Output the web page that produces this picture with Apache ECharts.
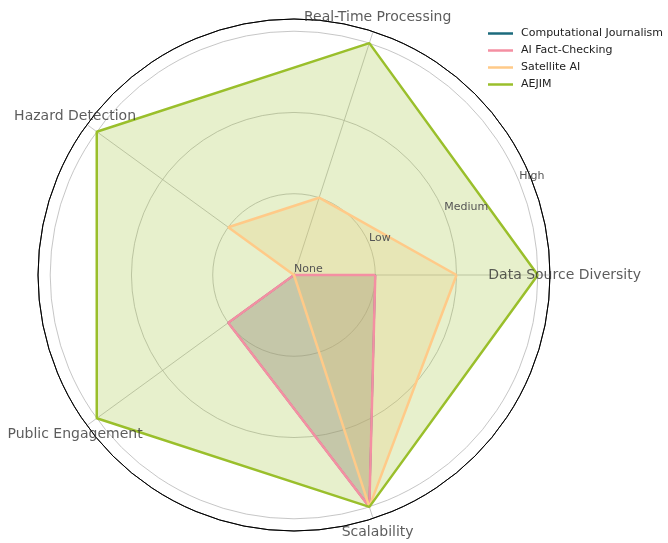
<!DOCTYPE html>
<html>
<head>
<meta charset="utf-8">
<script src="https://cdn.jsdelivr.net/npm/echarts@6/dist/echarts.min.js"></script>
<style>
html,body{margin:0;padding:0;background:#fff;}
#chart{width:668px;height:543px;}
</style>
</head>
<body>
<div id="chart"></div>
<script>
const indicators = ['Data Source Diversity', 'Real-Time Processing', 'Hazard Detection', 'Public Engagement', 'Scalability'];
const levelLabels = ['None', 'Low', 'Medium', 'High'];
const seriesNames = ['Computational Journalism', 'AI Fact-Checking', 'Satellite AI', 'AEJIM'];
const computationalJournalism = [1, 0, 0, 1, 3];
const aiFactChecking = [1, 0, 0, 1, 3];
const satelliteAI = [2, 1, 1, 0, 3];
const aejim = [3, 3, 3, 3, 3];

const seriesValues = [computationalJournalism, aiFactChecking, satelliteAI, aejim];
const colors = ['#1c6b7d', '#f48fa2', '#ffca88', '#9abf2b'];
const lineWidths = [1.8, 2.5, 2.5, 2.5];

const RMAX = 3.15;
const LABEL_R = 3.33;
const STEP = 360 / indicators.length;

function toPolar(vals) {
  const pts = vals.map((v, i) => [v, i * STEP]);
  pts.push([vals[0], 0]);
  return pts;
}

const chart = echarts.init(document.getElementById('chart'), null, {renderer: 'canvas'});
const font = 'DejaVu Sans';

const fillSeries = seriesNames.map((name, k) => ({
  name: name,
  type: 'line',
  coordinateSystem: 'polar',
  polarIndex: 0,
  symbol: 'none',
  data: toPolar(seriesValues[k]),
  lineStyle: {color: colors[k], width: 0, opacity: 0},
  itemStyle: {color: colors[k]},
  areaStyle: {color: colors[k], opacity: 0.24},
  z: 2
}));
const lineSeries = seriesNames.map((name, k) => ({
  name: name,
  type: 'line',
  coordinateSystem: 'polar',
  polarIndex: 0,
  symbol: 'none',
  data: toPolar(seriesValues[k]),
  lineStyle: {color: colors[k], width: lineWidths[k]},
  itemStyle: {color: colors[k]},
  z: 5 + k
}));

const option = {
  backgroundColor: '#ffffff',
  animation: false,
  color: colors,
  legend: {
    orient: 'vertical',
    left: 488,
    top: 28,
    padding: 0,
    itemWidth: 25,
    itemHeight: 2.5,
    itemGap: 6,
    icon: 'rect',
    data: seriesNames,
    textStyle: {fontFamily: font, fontSize: 11, color: '#222', padding: [0, 0, 0, 3]}
  },
  polar: [
    {center: [294, 275], radius: 256},
    {center: [294, 275], radius: 256}
  ],
  angleAxis: [
    {
      polarIndex: 0,
      type: 'value',
      min: 0,
      max: 360,
      interval: STEP,
      startAngle: 0,
      clockwise: false,
      axisLine: {show: true, lineStyle: {color: '#000', width: 1}},
      axisTick: {show: false},
      axisLabel: {show: false},
      splitLine: {show: true, lineStyle: {color: '#b8b8b8', width: 0.8}}
    },
    {
      polarIndex: 1,
      type: 'value',
      min: 0,
      max: 360,
      startAngle: 22.5,
      clockwise: false,
      show: false
    }
  ],
  radiusAxis: [
    {
      polarIndex: 0,
      type: 'value',
      min: 0,
      max: RMAX,
      interval: 1,
      axisLine: {show: false},
      axisTick: {show: false},
      axisLabel: {show: false},
      splitLine: {show: true, lineStyle: {color: ['#b8b8b8', '#b8b8b8', '#b8b8b8', '#b8b8b8', '#000'], width: 0.8}}
    },
    {
      polarIndex: 1,
      type: 'value',
      min: 0,
      max: RMAX,
      interval: 1,
      z: 10,
      axisLine: {show: false},
      axisTick: {show: false},
      splitLine: {show: false},
      axisLabel: {
        show: true,
        margin: 0,
        align: 'left',
        verticalAlign: 'bottom',
        fontFamily: font,
        fontSize: 11,
        color: '#555',
        formatter: function (v) {
          return Number.isInteger(v) && levelLabels[v] !== undefined ? levelLabels[v] : '';
        }
      }
    }
  ],
  series: fillSeries.concat(lineSeries).concat([{
    type: 'scatter',
    coordinateSystem: 'polar',
    polarIndex: 0,
    clip: false,
    symbolSize: 0,
    silent: true,
    z: 20,
    data: indicators.map((n, i) => [LABEL_R, i * STEP]),
    label: {
      show: true,
      position: 'inside',
      fontFamily: font,
      fontSize: 14,
      color: '#333',
      formatter: function (p) { return indicators[p.dataIndex]; }
    }
  }])
};
chart.setOption(option);
</script>
</body>
</html>
